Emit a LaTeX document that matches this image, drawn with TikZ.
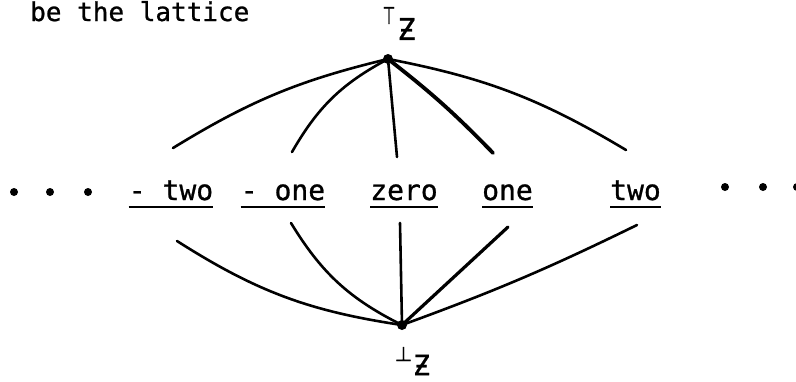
\documentclass[tikz,border=0pt]{standalone}
\usepackage{fontspec}
\newfontfamily\lblfont[UprightFeatures={FakeBold=0.9}]{DejaVu Sans Mono}
\newfontfamily\symfont[UprightFeatures={FakeBold=0.9}]{DejaVu Sans}
\begin{document}
\begin{tikzpicture}[x=1pt,y=1pt,
  lbl/.style={inner sep=0pt,anchor=base,font=\fontsize{28}{30}\selectfont\lblfont},
  edge/.style={line width=2.6pt,line cap=round},
  dotn/.style={circle,fill=black,inner sep=0pt,minimum size=8pt},
  topdot/.style={circle,fill=black,inner sep=0pt,minimum size=10pt},
  uline/.style={line width=2.2pt}]
\useasboundingbox (0,0) rectangle (796,-381);
\clip (0,0) rectangle (796,-381);
% heading text
\node[inner sep=0pt,anchor=base west,font=\fontsize{26}{28}\selectfont\lblfont] (head) at (30,-21) {be the lattice};
% top and bottom elements
\node[topdot] (T) at (388,-59) {};
\node[topdot] (B) at (402,-325) {};
\node[inner sep=0pt,font=\fontsize{24}{26}\selectfont\symfont] (Tsym) at (389,-15.5) {\scalebox{0.6}[1]{⊤}};
\node[inner sep=0pt,font=\fontsize{30}{32}\selectfont\lblfont] (Tz) at (406.5,-29) {Ƶ};
\node[inner sep=0pt,font=\fontsize{20}{22}\selectfont\symfont] (Bsym) at (403.5,-354) {⊥};
\node[inner sep=0pt,font=\fontsize{28}{30}\selectfont\lblfont] (Bz) at (421.5,-365) {Ƶ};
% labels
\node[lbl] (mtwo) at (171,-200) {- two};
\node[lbl] (mone) at (283,-200) {- one};
\node[lbl] (zero) at (404,-200) {zero};
\node[lbl] (one) at (507.5,-200) {one};
\node[lbl] (two) at (635.5,-200) {two};
\foreach \n in {mtwo,mone,zero,one,two}{
  \draw[uline] (\n.west |- 0,-207) -- (\n.east |- 0,-207);
}
% dots
\node[dotn] (l1) at (14,-192) {};
\node[dotn] (l2) at (50,-192) {};
\node[dotn] (l3) at (88,-192) {};
\node[dotn] (r1) at (725,-187) {};
\node[dotn] (r2) at (763,-187) {};
\node[dotn] (r3) at (797,-187) {};
% edge ends
\coordinate (tA) at (173,-148);
\coordinate (tB) at (292,-152);
\coordinate (tC) at (397,-157);
\coordinate (tD) at (493,-153);
\coordinate (tE) at (626,-150);
\coordinate (bA) at (177,-241);
\coordinate (bB) at (291,-223);
\coordinate (bC) at (400,-223);
\coordinate (bD) at (508,-227);
\coordinate (bE) at (637,-225);
% upper edges
\draw[edge] (T.center) to[bend right=9] (tA);
\draw[edge] (T.center) to[bend right=16] (tB);
\draw[edge] (T.center) -- (tC);
\draw[edge,line width=3.8pt] (T.center) to[bend left=4] (tD);
\draw[edge] (T.center) to[bend left=10] (tE);
% lower edges
\draw[edge] (B.center) to[bend left=12] (bA);
\draw[edge] (B.center) to[bend left=16] (bB);
\draw[edge] (B.center) -- (bC);
\draw[edge,line width=3.2pt] (B.center) -- (bD);
\draw[edge] (B.center) to[bend right=3] (bE);
\end{tikzpicture}
\end{document}
